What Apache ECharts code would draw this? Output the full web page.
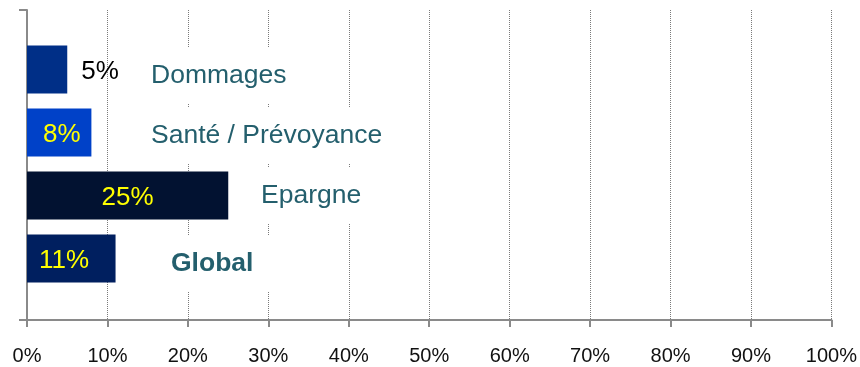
<!DOCTYPE html>
<html>
<head>
<meta charset="utf-8">
<script src="https://cdn.jsdelivr.net/npm/echarts@6/dist/echarts.min.js"></script>
<style>
  html, body { margin: 0; padding: 0; background: #fff; }
  #chart { width: 860px; height: 367px; }
</style>
</head>
<body>
<div id="chart"></div>
<script>
// Répartition par activité (en %)
const categories = ['Dommages', 'Santé / Prévoyance', 'Epargne', 'Global'];
const values = [5, 8, 25, 11];
const tickLabels = ['0%', '10%', '20%', '30%', '40%', '50%', '60%', '70%', '80%', '90%', '100%'];

const FONT = '"Liberation Sans", Arial, sans-serif';
const barColors = ['#002F87', '#0041C8', '#021231', '#001F5F'];

// value label placement, one entry per bar
const valueLabelStyles = [
  { position: 'right', distance: 14, color: '#000000' },
  { position: 'insideLeft', distance: 16, color: '#FFFF00' },
  { position: 'inside', distance: 0, color: '#FFFF00' },
  { position: 'insideLeft', distance: 12, color: '#FFFF00' }
];
// category name boxes, one entry per bar
const nameLabelStyles = [
  { distance: 108, dy: 6, bold: false },
  { distance: 108, dy: 3, bold: false },
  { distance: 218, dy: 0, bold: false },
  { distance: 128, dy: 5, bold: true }
];

const chart = echarts.init(document.getElementById('chart'), null, { renderer: 'canvas' });

const gray = '#8a8a8a';

const option = {
  animation: false,
  backgroundColor: '#ffffff',
  textStyle: { fontFamily: FONT },
  grid: [
    // frame: axes and dotted gridlines
    { left: 27, right: 28, top: 10, bottom: 47 },
    // bars
    { left: 27, right: 28, top: 38, bottom: 77 }
  ],
  xAxis: [
    {
      gridIndex: 0,
      type: 'value',
      min: 0, max: 100, interval: 10,
      axisLine: { show: true, lineStyle: { color: gray, width: 2 } },
      axisTick: { show: true, inside: false, length: 7, lineStyle: { color: gray, width: 2 } },
      axisLabel: {
        margin: 26,
        fontSize: 20,
        color: '#111111',
        fontFamily: FONT,
        formatter: (v) => tickLabels[Math.round(v / 10)]
      },
      splitLine: { show: true, lineStyle: { color: '#7a7a7a', width: 1, type: [1, 1] } }
    },
    {
      gridIndex: 1,
      type: 'value',
      min: 0, max: 100,
      show: false
    }
  ],
  yAxis: [
    {
      gridIndex: 0,
      type: 'value',
      min: 0, max: 1, interval: 1,
      axisLine: { show: true, lineStyle: { color: gray, width: 2 } },
      axisTick: { show: true, inside: false, length: 8, lineStyle: { color: gray, width: 2 } },
      axisLabel: { show: false },
      splitLine: { show: false }
    },
    {
      gridIndex: 1,
      type: 'category',
      inverse: true,
      data: categories,
      show: false
    }
  ],
  series: [
    {
      type: 'bar',
      xAxisIndex: 1,
      yAxisIndex: 1,
      barWidth: 48,
      z: 3,
      data: values.map((v, i) => ({
        value: v,
        itemStyle: { color: barColors[i] },
        label: {
          show: true,
          position: valueLabelStyles[i].position,
          distance: valueLabelStyles[i].distance,
          offset: [0, 2],
          color: valueLabelStyles[i].color,
          fontSize: 26,
          fontFamily: FONT,
          formatter: '{c}%'
        }
      }))
    },
    {
      // category names in white boxes beside the bars
      type: 'bar',
      xAxisIndex: 1,
      yAxisIndex: 1,
      barWidth: 48,
      barGap: '-100%',
      silent: true,
      z: 4,
      itemStyle: { color: 'rgba(0,0,0,0)' },
      data: values.map((v, i) => ({
        value: v,
        label: {
          show: true,
          position: 'insideLeft',
          distance: nameLabelStyles[i].distance,
          offset: [0, nameLabelStyles[i].dy],
          color: '#245F6D',
          fontSize: 26.5,
          fontWeight: nameLabelStyles[i].bold ? 'bold' : 'normal',
          fontFamily: FONT,
          backgroundColor: '#ffffff',
          padding: [14, 16],
          formatter: '{b}'
        }
      }))
    }
  ]
};

chart.setOption(option);
</script>
</body>
</html>
